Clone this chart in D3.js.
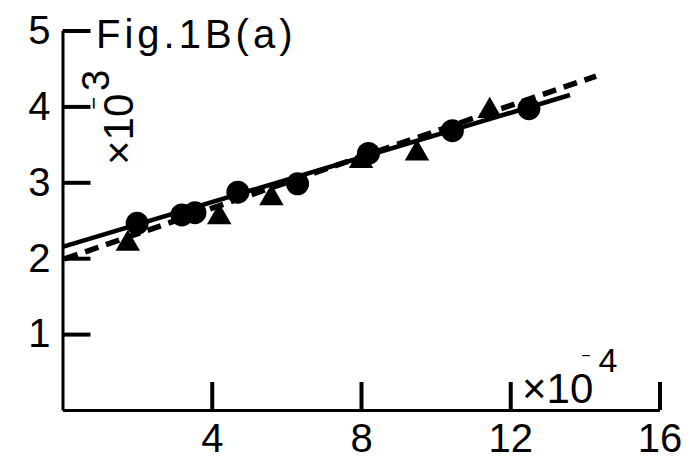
<!DOCTYPE html>
<html>
<head>
<meta charset="utf-8">
<script src="https://cdn.jsdelivr.net/npm/d3@7"></script>
<style>
html,body{margin:0;padding:0;background:#fff;}
svg{display:block;}
text{font-family:"Liberation Sans",Arial,sans-serif;fill:#000;}
</style>
</head>
<body>
<svg id="chart" width="694" height="465"></svg>
<script>
// ---- data (x in units of 1e-4, y in units of 1e-3) ----
const circleX = [2.0, 3.2, 3.55, 4.7, 6.3, 8.2, 10.45, 12.5];
const circleY = [2.46, 2.57, 2.60, 2.87, 2.98, 3.38, 3.68, 3.97];
const triangleX = [1.75, 4.2, 5.6, 8.0, 9.5, 11.45];
const triangleY = [2.19, 2.54, 2.79, 3.28, 3.38, 3.94];
const solidFitX = [0, 13.6];
const solidFitY = [2.15, 4.15];
const dashedFitX = [0.05, 14.3];
const dashedFitY = [1.99, 4.40];
const xTicks = [4, 8, 12, 16];
const yTicks = [1, 2, 3, 4, 5];
const titleText = "Fig.1B(a)";

const svg = d3.select("#chart");
const x = d3.scaleLinear().domain([0, 16]).range([62.5, 659.5]);
const y = d3.scaleLinear().domain([0, 5]).range([410, 30.5]);

// axes
const gx = svg.append("g").attr("transform", `translate(0,${y(0)})`)
  .call(d3.axisBottom(x).tickValues(xTicks).tickFormat(d3.format("d"))
    .tickSizeInner(-28).tickSizeOuter(0).tickPadding(14));
gx.select(".domain").attr("stroke", "#000").attr("stroke-width", 3);
gx.selectAll(".tick line").attr("stroke", "#000").attr("stroke-width", 4);
gx.selectAll(".tick text").attr("font-size", 40).attr("font-family", "Liberation Sans");

const gy = svg.append("g").attr("transform", `translate(${x(0)},0)`)
  .call(d3.axisLeft(y).tickValues(yTicks).tickFormat(d3.format("d"))
    .tickSizeInner(-28).tickSizeOuter(0).tickPadding(12));
gy.select(".domain").attr("stroke", "#000").attr("stroke-width", 3);
gy.selectAll(".tick line").attr("stroke", "#000").attr("stroke-width", 4);
gy.selectAll(".tick text").attr("font-size", 40).attr("font-family", "Liberation Sans");

// fit lines
const line = d3.line().x(d => x(d[0])).y(d => y(d[1]));
svg.append("path").datum(d3.zip(solidFitX, solidFitY))
  .attr("d", line).attr("fill", "none").attr("stroke", "#000").attr("stroke-width", 4.5);
svg.append("path").datum(d3.zip(dashedFitX, dashedFitY))
  .attr("d", line).attr("fill", "none").attr("stroke", "#000").attr("stroke-width", 5.5)
  .attr("stroke-dasharray", "14,8");

// markers
svg.append("g").selectAll("path").data(d3.zip(triangleX, triangleY)).join("path")
  .attr("transform", d => `translate(${x(d[0])},${y(d[1])})`)
  .attr("d", d3.symbol().type(d3.symbolTriangle).size(260))
  .attr("fill", "#000");
svg.append("g").selectAll("circle").data(d3.zip(circleX, circleY)).join("circle")
  .attr("cx", d => x(d[0])).attr("cy", d => y(d[1])).attr("r", 11.5)
  .attr("fill", "#000");

// title
svg.append("text").attr("x", 96).attr("y", 48).attr("font-size", 40)
  .attr("letter-spacing", 4).text(titleText);

// y multiplier label (rotated)
const yl = svg.append("text").attr("transform", "translate(133,165) rotate(-90)")
  .attr("font-size", 42);
yl.append("tspan").text("×10");
yl.append("tspan").attr("dx", -16).attr("dy", -32).attr("font-size", 22).text("−");
yl.append("tspan").attr("dx", 6).attr("dy", 8).attr("font-size", 38).text("3");

// x multiplier label
const xl = svg.append("text").attr("transform", "translate(522,403)")
  .attr("font-size", 42);
xl.append("tspan").text("×10");
xl.append("tspan").attr("dx", -12).attr("dy", -42).attr("font-size", 16).text("−");
xl.append("tspan").attr("dx", 8).attr("dy", 11).attr("font-size", 34).text("4");
</script>
</body>
</html>
